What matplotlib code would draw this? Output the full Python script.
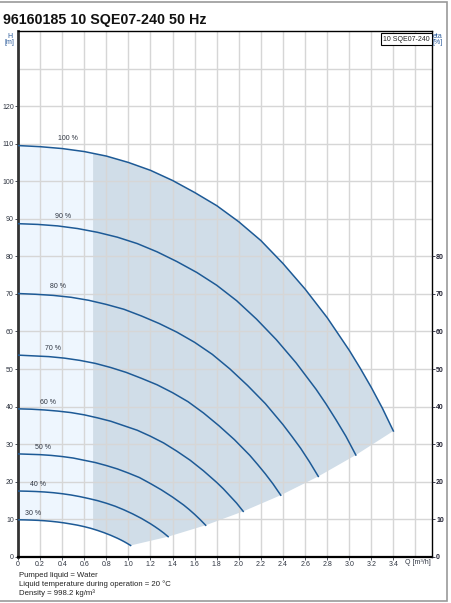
import numpy as np
import matplotlib
matplotlib.use('Agg')
from matplotlib import pyplot as plt
from matplotlib.patches import Rectangle

plt.rcParams['font.family'] = ['Liberation Sans', 'DejaVu Sans']

# speed curves: Q [m3/h], H [m]
speeds = ['100 %', '90 %', '80 %', '70 %', '60 %', '50 %', '40 %', '30 %']
Q100 = [0, 0.2, 0.4, 0.6, 0.8, 1.0, 1.2, 1.4, 1.6, 1.8, 2.0, 2.2, 2.4, 2.6, 2.8, 3.0, 3.1, 3.2, 3.3, 3.4]
H100 = [109.5, 109.2, 108.7, 107.9, 106.7, 105.0, 102.9, 100.2, 97.0, 93.5, 89.2, 84.2, 78.1, 71.3, 63.7, 55.0, 50.2, 45.1, 39.6, 33.5]
Q90 = [0, 0.18, 0.36, 0.54, 0.72, 0.9, 1.08, 1.26, 1.44, 1.62, 1.8, 1.98, 2.16, 2.34, 2.52, 2.7, 2.79, 2.88, 2.97, 3.06]
H90 = [88.7, 88.5, 88.1, 87.4, 86.4, 85.1, 83.4, 81.2, 78.6, 75.7, 72.3, 68.2, 63.3, 57.8, 51.6, 44.6, 40.7, 36.5, 32.1, 27.1]
Q80 = [0, 0.16, 0.32, 0.48, 0.64, 0.8, 0.96, 1.12, 1.28, 1.44, 1.6, 1.76, 1.92, 2.08, 2.24, 2.4, 2.48, 2.56, 2.64, 2.72]
H80 = [70.1, 69.9, 69.6, 69.1, 68.3, 67.2, 65.9, 64.1, 62.1, 59.8, 57.1, 53.9, 50.0, 45.6, 40.8, 35.2, 32.1, 28.9, 25.3, 21.4]
Q70 = [0, 0.14, 0.28, 0.42, 0.56, 0.7, 0.84, 0.98, 1.12, 1.26, 1.4, 1.54, 1.68, 1.82, 1.96, 2.1, 2.17, 2.24, 2.31, 2.38]
H70 = [53.7, 53.5, 53.3, 52.9, 52.3, 51.5, 50.4, 49.1, 47.5, 45.8, 43.7, 41.3, 38.3, 34.9, 31.2, 27.0, 24.6, 22.1, 19.4, 16.4]
Q60 = [0, 0.12, 0.24, 0.36, 0.48, 0.6, 0.72, 0.84, 0.96, 1.08, 1.2, 1.32, 1.44, 1.56, 1.68, 1.8, 1.86, 1.92, 1.98, 2.04]
H60 = [39.4, 39.3, 39.1, 38.8, 38.4, 37.8, 37.0, 36.1, 34.9, 33.7, 32.1, 30.3, 28.1, 25.7, 22.9, 19.8, 18.1, 16.2, 14.3, 12.1]
Q50 = [0, 0.1, 0.2, 0.3, 0.4, 0.5, 0.6, 0.7, 0.8, 0.9, 1.0, 1.1, 1.2, 1.3, 1.4, 1.5, 1.55, 1.6, 1.65, 1.7]
H50 = [27.4, 27.3, 27.2, 27.0, 26.7, 26.3, 25.7, 25.1, 24.3, 23.4, 22.3, 21.1, 19.5, 17.8, 15.9, 13.8, 12.6, 11.3, 9.9, 8.4]
Q40 = [0, 0.08, 0.16, 0.24, 0.32, 0.4, 0.48, 0.56, 0.64, 0.72, 0.8, 0.88, 0.96, 1.04, 1.12, 1.2, 1.24, 1.28, 1.32, 1.36]
H40 = [17.52, 17.47, 17.39, 17.26, 17.07, 16.8, 16.46, 16.03, 15.52, 14.96, 14.27, 13.47, 12.5, 11.41, 10.19, 8.8, 8.03, 7.22, 6.34, 5.36]
Q30 = [0, 0.06, 0.12, 0.18, 0.24, 0.3, 0.36, 0.42, 0.48, 0.54, 0.6, 0.66, 0.72, 0.78, 0.84, 0.9, 0.93, 0.96, 0.99, 1.02]
H30 = [9.86, 9.83, 9.78, 9.71, 9.6, 9.45, 9.26, 9.02, 8.73, 8.42, 8.03, 7.58, 7.03, 6.42, 5.73, 4.95, 4.52, 4.06, 3.56, 3.02]
Qs = [Q100, Q90, Q80, Q70, Q60, Q50, Q40, Q30]
Hs = [H100, H90, H80, H70, H60, H50, H40, H30]
q_split = 0.68  # left edge of the darker operating area

xticks = np.arange(0, 3.41, 0.2)
yticks_left = np.arange(0, 121, 10)
yticks_right = np.arange(0, 81, 10)

fig = plt.figure(figsize=(4.51, 6.03), dpi=100)
ax = fig.add_axes([0.0399, 0.0766, 0.918, 0.872])
ax.set_xlim(0, 3.75)
ax.set_ylim(0, 140)

line_col = '#1d5a96'
txt_col = '#2e3440'

# shaded areas
q1 = np.array(Q100); h1 = np.array(H100)
q3 = np.array(Q30); h3 = np.array(H30)
h1s = np.interp(q_split, q1, h1)
h3s = np.interp(q_split, q3, h3)
lx = np.concatenate([q1[q1 < q_split], [q_split, q_split], q3[q3 < q_split][::-1]])
ly = np.concatenate([h1[q1 < q_split], [h1s, h3s], h3[q3 < q_split][::-1]])
ax.fill(lx, ly, color='#eef6fe', lw=0, zorder=1)
ends_q = [q[-1] for q in Qs]
ends_h = [h[-1] for h in Hs]
dx = np.concatenate([[q_split], q1[q1 > q_split], ends_q[1:-1], q3[q3 > q_split][::-1], [q_split]])
dy = np.concatenate([[h1s], h1[q1 > q_split], ends_h[1:-1], h3[q3 > q_split][::-1], [h3s]])
ax.fill(dx, dy, color='#d0dde8', lw=0, zorder=1)

# grid
for x in np.arange(0.2, 3.75, 0.2):
    ax.axvline(x, color='#d6d6d6', lw=1.0, zorder=2)
for y in np.arange(10, 140, 10):
    ax.axhline(y, color='#d6d6d6', lw=1.0, zorder=2)

r_list = [1.0, 0.9, 0.8, 0.7, 0.6, 0.5, 0.4, 0.3]
for q, h, lab, r in zip(Qs, Hs, speeds, r_list):
    ax.plot(q, h, color=line_col, lw=1.1, zorder=3)
    ax.text(0.45 * r, h[0] + 1.8, lab, fontsize=5, color=txt_col,
            ha='center', va='center', zorder=4)

# spines / ticks
ax.spines['left'].set_linewidth(2.0)
ax.spines['left'].set_color('#333333')
ax.spines['bottom'].set_linewidth(1.6)
ax.spines['right'].set_linewidth(1.0)
ax.spines['top'].set_linewidth(1.0)
ax.set_xticks(xticks)
ax.set_xticklabels(['0' if v == 0 else '%.1f' % v for v in xticks])
ax.set_yticks(yticks_left)
ax.tick_params(axis='both', labelsize=5, colors=txt_col, length=2, width=0.6, pad=1)
ax2 = ax.twinx()
ax2.set_ylim(0, 140)
ax2.set_yticks(yticks_right)
ax2.tick_params(axis='y', labelsize=5, colors='#222233', length=2, width=0.6, pad=1)
for t in ax2.get_yticklabels():
    t.set_fontweight('bold')
for s in ax2.spines.values():
    s.set_visible(False)

# model box
ax.text(3.73, 138.8, '10 SQE07-240', fontsize=5, ha='right', va='top', color='#222222',
        bbox=dict(boxstyle='square,pad=0.35', fc='white', ec='black', lw=0.8), zorder=6)

fig.text(0.022, 0.946, 'H\n[m]', fontsize=5, color='#2a5a9a', ha='center', va='top', linespacing=0.9)
fig.text(0.971, 0.946, 'eta\n[%]', fontsize=5, color='#2a5a9a', ha='center', va='top', linespacing=0.9)
fig.text(0.898, 0.067, 'Q [m³/h]', fontsize=5, color=txt_col, ha='left', va='center')

fig.text(0.007, 0.967, '96160185 10 SQE07-240 50 Hz', fontsize=10.3, fontweight='bold',
         ha='left', va='center', color='#111111')
fig.text(0.042, 0.045, 'Pumped liquid = Water', fontsize=5.6, color='#222222', va='center')
fig.text(0.042, 0.031, 'Liquid temperature during operation = 20 °C', fontsize=5.6, color='#222222', va='center')
fig.text(0.042, 0.017, 'Density = 998.2 kg/m³', fontsize=5.6, color='#222222', va='center')

# page frame
fig.patches.append(Rectangle((-0.01, 0.003), 1.001, 0.993, transform=fig.transFigure,
                             fill=False, ec='#999999', lw=1.2))

fig.savefig('out.png', dpi=100)
